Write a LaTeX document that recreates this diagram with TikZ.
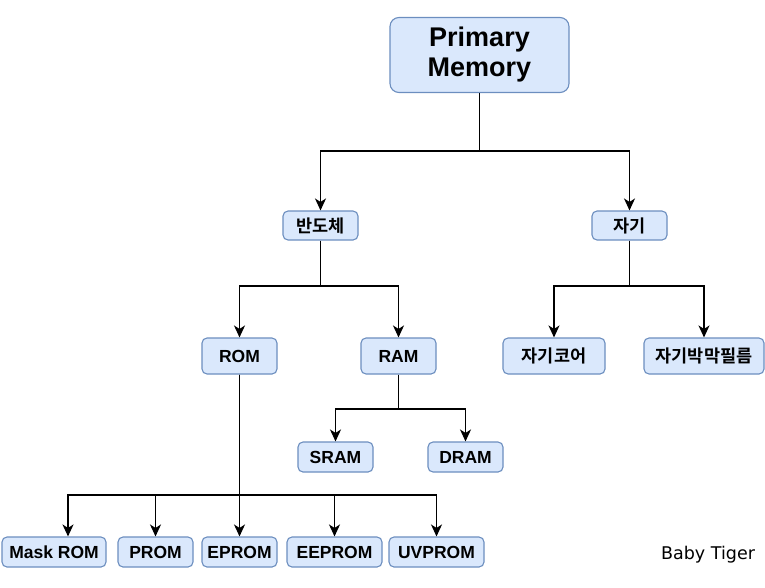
\documentclass[tikz,border=0pt]{standalone}
\usepackage{fontspec}
\setmainfont{Liberation Sans}
\newfontfamily\kofont{Noto Sans CJK KR Bold}
\newfontfamily\tagfont{DejaVu Sans}
\usetikzlibrary{arrows.meta,calc}
\definecolor{memfill}{HTML}{DAE8FC}
\definecolor{memline}{HTML}{6C8EBF}
\tikzset{mem edge/.style={-{Stealth[length=12pt,width=11pt,inset=3.5pt]}, line width=1.6pt}}
\tikzset{mem box/.style={draw=memline, fill=memfill, rounded corners=5pt, line width=1.1pt, align=center, inner sep=0pt, minimum height=36pt, font=\fontsize{17.5}{20}\selectfont\bfseries}}
\tikzset{mem low/.style={mem box, minimum height=30pt}}
\tikzset{mem ko/.style={mem box, font=\fontsize{17.5}{20}\selectfont\kofont}}
\tikzset{mem top/.style={mem box, rounded corners=9pt, font=\fontsize{27}{30}\selectfont\bfseries}}

\begin{document}
\begin{tikzpicture}[x=1pt,y=-1pt]
	\useasboundingbox (0,0) rectangle (765,587);

	\node[mem top, minimum width=179pt, minimum height=75pt] (pm) at (479.5,55) {Primary\\Memory};

	\node[mem ko, minimum width=75pt, minimum height=29pt] (semi) at (320.5,225.5) {반도체};
	\node[mem ko, minimum width=75pt, minimum height=29pt] (mag) at (629.5,225.5) {자기};

	\node[mem box, minimum width=75pt] (rom) at (239.5,356) {ROM};
	\node[mem box, minimum width=75pt] (ram) at (398.5,356) {RAM};
	\node[mem ko, minimum width=102pt] (core) at (554,356) {자기코어};
	\node[mem ko, minimum width=120pt] (film) at (704,356) {자기박막필름};

	\node[mem low, minimum width=75pt] (sram) at (335.5,457) {SRAM};
	\node[mem low, minimum width=75pt] (dram) at (465.5,457) {DRAM};

	\node[mem low, minimum width=104pt] (mask) at (54,552) {Mask ROM};
	\node[mem low, minimum width=75pt] (prom) at (155.5,552) {PROM};
	\node[mem low, minimum width=75pt] (eprom) at (239.5,552) {EPROM};
	\node[mem low, minimum width=95pt] (eeprom) at (334.5,552) {EEPROM};
	\node[mem low, minimum width=95pt] (uvprom) at (436.5,552) {UVPROM};

	\node[font=\tagfont\fontsize{17.5}{20}\selectfont, anchor=base] (tag) at (708,559) {Baby Tiger};

	% split points
	\coordinate (pmsplit) at (479.5,151);
	\coordinate (semisplit) at (320.5,286);
	\coordinate (magsplit) at (629.5,286);
	\coordinate (ramsplit) at (398.5,409);
	\coordinate (romsplit) at (239.5,495);

	\draw[mem edge] (pm.south) -- (pmsplit) -| (semi.north);
	\draw[mem edge] (pm.south) -- (pmsplit) -| (mag.north);
	\draw[mem edge] (semi.south) -- (semisplit) -| (rom.north);
	\draw[mem edge] (semi.south) -- (semisplit) -| (ram.north);
	\draw[mem edge] (mag.south) -- (magsplit) -| (core.north);
	\draw[mem edge] (mag.south) -- (magsplit) -| (film.north);
	\draw[mem edge] (ram.south) -- (ramsplit) -| (sram.north);
	\draw[mem edge] (ram.south) -- (ramsplit) -| (dram.north);
	\draw[mem edge] (rom.south) -- (romsplit) -| ([xshift=14pt]mask.north);
	\draw[mem edge] (rom.south) -- (romsplit) -| (prom.north);
	\draw[mem edge] (rom.south) -- (romsplit) -| (eprom.north);
	\draw[mem edge] (rom.south) -- (romsplit) -| (eeprom.north);
	\draw[mem edge] (rom.south) -- (romsplit) -| (uvprom.north);
\end{tikzpicture}
\end{document}
